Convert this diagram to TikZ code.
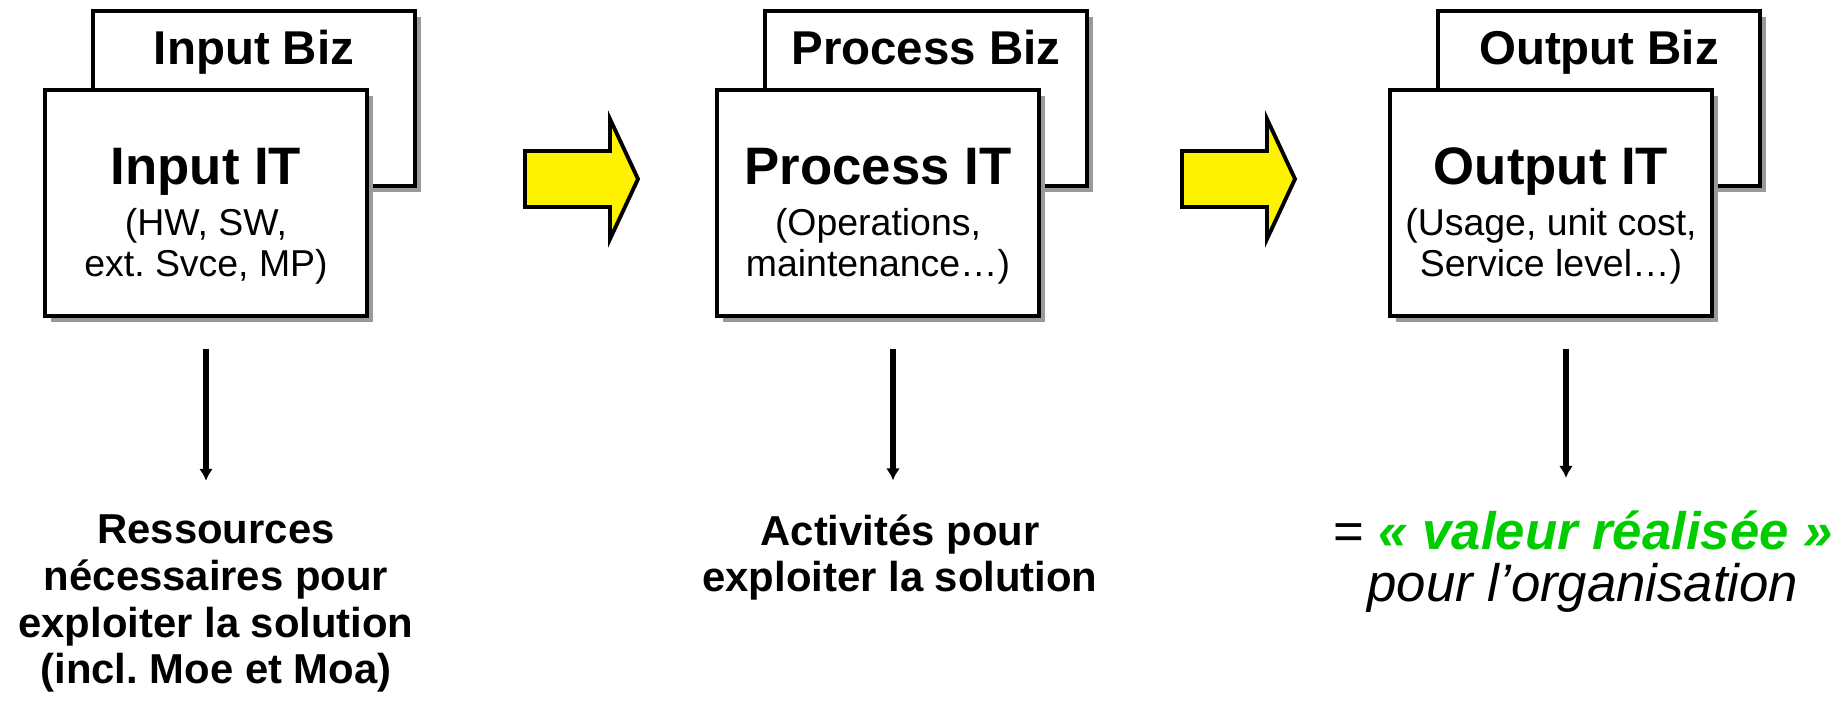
\documentclass[tikz,border=0pt]{standalone}
\usepackage{fontspec}
\setmainfont{Liberation Sans}
\usetikzlibrary{shadows,arrows.meta,positioning}
\definecolor{valgreen}{RGB}{0,204,0}
\tikzset{
  card/.style={draw, line width=2.2pt, fill=white, minimum width=6.44cm, inner sep=0pt,
    drop shadow={shadow xshift=0.12cm, shadow yshift=-0.12cm, fill=black!40, opacity=1}},
  bizcard/.style={card, minimum height=3.50cm},
  itcard/.style={card, minimum height=4.52cm},
  biztitle/.style={font=\fontsize{27}{32}\selectfont\bfseries, anchor=base},
  ittitle/.style={font=\fontsize{30}{34}\selectfont\bfseries, anchor=base},
  itdetail/.style={font=\fontsize{21.3}{23.8}\selectfont, align=center, anchor=base},
  down/.style={line width=3pt, -{Latex[length=0.24cm,width=0.28cm]}},
  flow/.style={draw=black, line width=2.2pt, fill=yellow, line join=miter},
  note/.style={align=center, anchor=base, font=\fontsize{23.8}{26.6}\selectfont\bfseries}
}
\begin{document}
\begin{tikzpicture}
\useasboundingbox (0,0) rectangle (36.94,-14.04);
% the three Biz / IT cards
\foreach \i/\x/\word/\detail in {1/0/Input/{(HW, SW,\\ext.\ Svce, MP)},
    2/13.44/Process/{(Operations,\\maintenance…)},
    3/26.90/Output/{(Usage, unit cost,\\Service level…)}}{
  \node[bizcard] (biz\i) at (5.08+\x,-1.97) {};
  \node[biztitle] (biztxt\i) at (5.08+\x,-1.30) {\word{} Biz};
  \node[itcard] (it\i) at (4.12+\x,-4.06) {};
  \node[ittitle] (ittxt\i) at (4.12+\x,-3.70) {\word{} IT};
  \node[itdetail] (itdetail\i) at (4.12+\x,-5.54) {\detail};
}
% yellow arrows
\foreach \x in {10.50,23.64}
  \draw[flow] (\x,-3.02) -- ++(1.70,0) -- ++(0,0.64) -- ++(0.56,-1.20)
    -- ++(-0.56,-1.20) -- ++(0,0.64) -- ++(-1.70,0) -- cycle;
% what each card stands for (base = last line)
\node[note] (need) at (4.32,-13.68) {Ressources\\nécessaires pour\\exploiter la solution\\(incl.\ Moe et Moa)};
\node[note] (task) at (18.00,-11.84) {Activités pour\\exploiter la solution};
\node[note, font=\fontsize{30}{30}\selectfont] (value) at (31.66,-12.04)
  {= {\bfseries\itshape\color{valgreen}« valeur réalisée »}\\{\itshape pour l’organisation}};
\draw[down, shorten <=0.62cm, shorten >=0.56cm] (it1.south) -- (it1.south |- need.north);
\draw[down, shorten <=0.62cm, shorten >=0.56cm] ([xshift=0.3cm]it2.south) -- ([xshift=0.3cm]it2.south |- task.north);
\draw[down, shorten <=0.62cm, shorten >=0.53cm] ([xshift=0.3cm]it3.south) -- ([xshift=0.3cm]it3.south |- value.north);
\end{tikzpicture}
\end{document}
